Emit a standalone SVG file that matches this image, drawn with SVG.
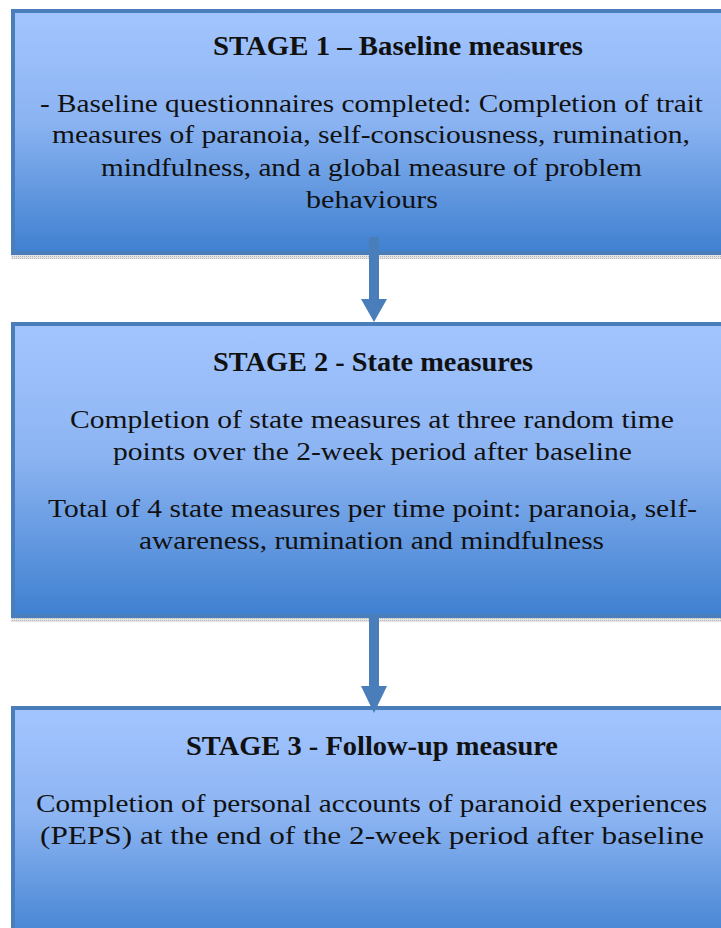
<svg xmlns="http://www.w3.org/2000/svg" width="721" height="928" viewBox="0 0 721 928">
<defs>
<linearGradient id="g" x1="0" y1="0" x2="0" y2="1">
<stop offset="0" stop-color="#a3c5ff"/>
<stop offset="0.45" stop-color="#8cb4f2"/>
<stop offset="1" stop-color="#3f80d0"/>
</linearGradient>
<pattern id="dots" width="2" height="2" patternUnits="userSpaceOnUse">
<rect width="2" height="2" fill="#e4e4e4"/>
<rect width="1" height="1" fill="#b8b8b8"/>
</pattern>
</defs>
<style>
.box{fill:url(#g);stroke:#4a7ebb;stroke-width:4}
.shadow{fill:url(#dots)}
.t{font-family:"Liberation Serif","DejaVu Serif",serif;font-size:25px;fill:#111;text-anchor:middle}
.h{font-weight:bold;font-size:27px}
.arrow{fill:#4a7ebb}
</style>
<rect width="721" height="928" fill="#fff"/>
<g id="stage1">
<rect class="shadow" x="11" y="253" width="712" height="6"/>
<rect class="box" x="13" y="11" width="725" height="242"/>
<text class="t h" x="398" y="55" textLength="370" lengthAdjust="spacingAndGlyphs">STAGE 1 – Baseline measures</text>
<text class="t" x="371.5" y="112" textLength="663" lengthAdjust="spacingAndGlyphs">- Baseline questionnaires completed: Completion of trait</text>
<text class="t" x="371" y="143" textLength="638" lengthAdjust="spacingAndGlyphs">measures of paranoia, self-consciousness, rumination,</text>
<text class="t" x="371.5" y="176" textLength="541" lengthAdjust="spacingAndGlyphs">mindfulness, and a global measure of problem</text>
<text class="t" x="372" y="208" textLength="132" lengthAdjust="spacingAndGlyphs">behaviours</text>
</g>
<g id="stage2">
<rect class="shadow" x="11" y="616" width="712" height="6"/>
<rect class="box" x="13" y="324" width="725" height="292"/>
<text class="t h" x="373" y="371" textLength="320" lengthAdjust="spacingAndGlyphs">STAGE 2 - State measures</text>
<text class="t" x="372" y="428" textLength="604" lengthAdjust="spacingAndGlyphs">Completion of state measures at three random time</text>
<text class="t" x="372.5" y="460" textLength="519" lengthAdjust="spacingAndGlyphs">points over the 2-week period after baseline</text>
<text class="t" x="372.5" y="517" textLength="649" lengthAdjust="spacingAndGlyphs">Total of 4 state measures per time point: paranoia, self-</text>
<text class="t" x="371.5" y="549" textLength="465" lengthAdjust="spacingAndGlyphs">awareness, rumination and mindfulness</text>
</g>
<g id="stage3">
<rect class="box" x="13" y="708" width="725" height="240"/>
<text class="t h" x="372" y="755" textLength="372" lengthAdjust="spacingAndGlyphs">STAGE 3 - Follow-up measure</text>
<text class="t" x="371.5" y="812" textLength="671" lengthAdjust="spacingAndGlyphs">Completion of personal accounts of paranoid experiences</text>
<text class="t" x="372" y="844" textLength="664" lengthAdjust="spacingAndGlyphs">(PEPS) at the end of the 2-week period after baseline</text>
</g>
<g id="connectors">
<path class="arrow" d="M369,237 H379 V299 H387 L374,322 L361,299 H369 Z"/>
<path class="arrow" d="M369,617 H379 V686 H387 L374,713 L361,686 H369 Z"/>
</g>
</svg>
